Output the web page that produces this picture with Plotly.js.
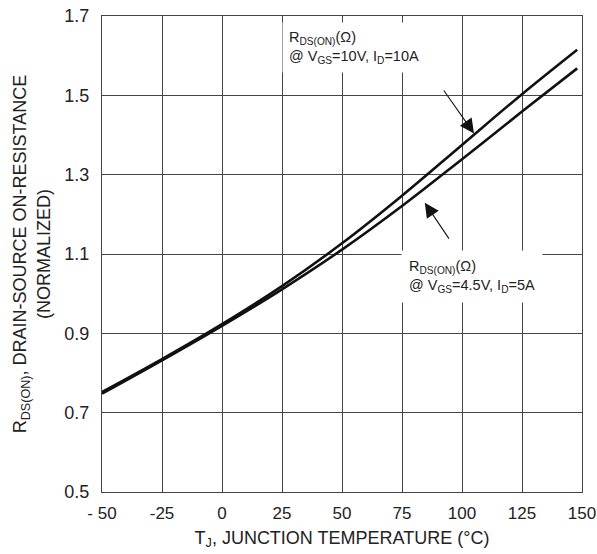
<!DOCTYPE html>
<html>
<head>
<meta charset="utf-8">
<script src="https://cdn.plot.ly/plotly-3.0.1.min.js"></script>
<style>html,body{margin:0;padding:0;background:#fff}#chart{width:597px;height:554px}</style>
</head>
<body>
<div id="chart"></div>
<script>
const tempC = [-50, -25, 0, 25, 50, 75, 100, 125, 148];
const rdsVgs10 = [0.752, 0.835, 0.923, 1.019, 1.127, 1.247, 1.375, 1.503, 1.615];
const rdsVgs45 = [0.748, 0.832, 0.919, 1.011, 1.111, 1.221, 1.339, 1.459, 1.568];
const xTickVals = [-50, -25, 0, 25, 50, 75, 100, 125, 150];
const xTickText = ['- 50', '-25', '0', '25', '50', '75', '100', '125', '150'];
const yTickVals = [0.5, 0.7, 0.9, 1.1, 1.3, 1.5, 1.7];
const yTickText = ['0.5', '0.7', '0.9', '1.1', '1.3', '1.5', '1.7'];
const label10 = 'R<sub>DS(ON)</sub>(Ω)<br>@ V<sub>GS</sub>=10V, I<sub>D</sub>=10A';
const label45 = 'R<sub>DS(ON)</sub>(Ω)<br>@ V<sub>GS</sub>=4.5V, I<sub>D</sub>=5A';

const font = 'Liberation Sans, Arial, Helvetica, sans-serif';
const traces = [
  {x: tempC, y: rdsVgs10, mode: 'lines', line: {color: '#111', width: 2.6, shape: 'spline', smoothing: 1}, name: 'VGS=10V', hoverinfo: 'skip'},
  {x: tempC, y: rdsVgs45, mode: 'lines', line: {color: '#111', width: 2.6, shape: 'spline', smoothing: 1}, name: 'VGS=4.5V', hoverinfo: 'skip'}
];
const layout = {
  width: 597, height: 554,
  margin: {l: 102, r: 15, t: 16, b: 62},
  paper_bgcolor: '#fff', plot_bgcolor: '#fff',
  showlegend: false,
  font: {family: font, color: '#222', size: 17},
  xaxis: {
    range: [-50, 150], tickvals: xTickVals, ticktext: xTickText,
    showgrid: true, gridcolor: '#444', gridwidth: 1,
    showline: true, linecolor: '#444', linewidth: 1, mirror: true,
    zeroline: false, ticks: '', ticklabelstandoff: 6,
    tickfont: {size: 17, family: font, color: '#222'},
    title: {text: 'T<sub>J</sub>, JUNCTION TEMPERATURE (°C)', font: {size: 18, family: font, color: '#222'}, standoff: 8}
  },
  yaxis: {
    range: [0.5, 1.7], tickvals: yTickVals, ticktext: yTickText,
    showgrid: true, gridcolor: '#444', gridwidth: 1,
    showline: true, linecolor: '#444', linewidth: 1, mirror: true,
    zeroline: false, ticks: '', ticklabelstandoff: 8,
    tickfont: {size: 18, family: font, color: '#222'},
    title: {text: 'R<sub>DS(ON)</sub>, DRAIN-SOURCE ON-RESISTANCE<br>(NORMALIZED)', font: {size: 18, family: font, color: '#222'}, standoff: 9}
  },
  annotations: [
    {x: 25, y: 1.685, xref: 'x', yref: 'y', text: label10, showarrow: false, xanchor: 'left', yanchor: 'top', align: 'left',
     bgcolor: '#fff', borderpad: 6, font: {size: 14.5, family: font, color: '#222'}},
    {x: 74.5, y: 1.11, xref: 'x', yref: 'y', text: label45, showarrow: false, xanchor: 'left', yanchor: 'top', align: 'left',
     bgcolor: '#fff', borderpad: 7, font: {size: 14.5, family: font, color: '#222'}},
    {x: 105, y: 1.404, ax: 92, ay: 1.516, xref: 'x', yref: 'y', axref: 'x', ayref: 'y', text: '', showarrow: true,
     arrowhead: 2, arrowsize: 2.6, arrowwidth: 1.1, arrowcolor: '#111', standoff: 0},
    {x: 84.5, y: 1.229, ax: 95, ay: 1.135, xref: 'x', yref: 'y', axref: 'x', ayref: 'y', text: '', showarrow: true,
     arrowhead: 2, arrowsize: 2.6, arrowwidth: 1.1, arrowcolor: '#111', standoff: 0}
  ]
};
Plotly.newPlot('chart', traces, layout, {displayModeBar: false, staticPlot: true});
</script>
</body>
</html>
